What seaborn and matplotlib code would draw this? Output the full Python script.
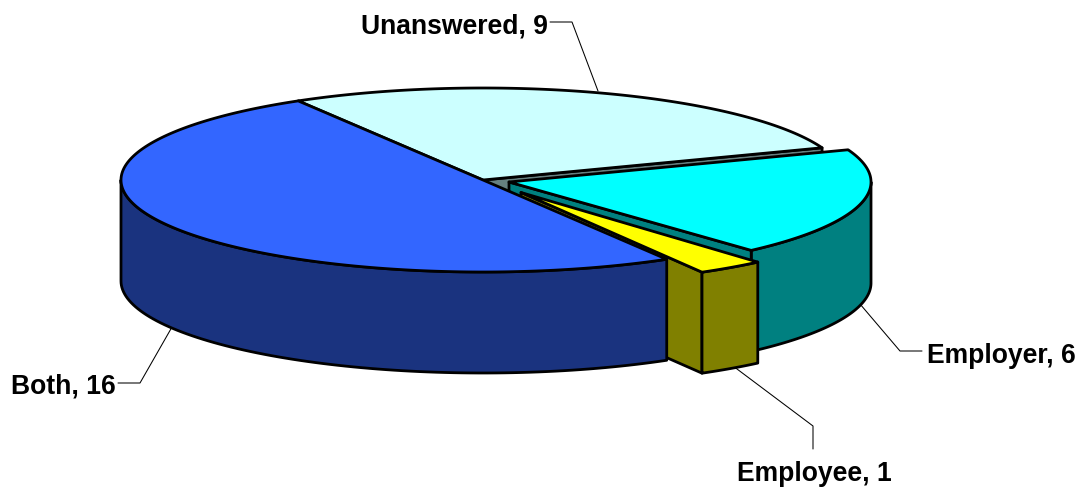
import numpy as np
import matplotlib
matplotlib.use("Agg")
import matplotlib.pyplot as plt
from matplotlib.patches import Polygon
import seaborn as sns

categories = ["Both", "Employee", "Employer", "Unanswered"]
values = [16, 1, 6, 9]

top_colors = ["#3366FF", "#FFFF00", "#00FFFF", "#CCFFFF"]
side_colors = ["#1A337F", "#808000", "#008080", "#668080"]
centers = [(483, 181), (521, 193.5), (509, 183), (483, 181)]
# small per-slice angle corrections for the projection of the 3-D pie
nudges = [(0.7, 0.5), (0.0, -0.4), (0.75, 1.75), (1.75, 0.7)]
label_pos = [(116, 386, "right"), (737, 474, "left"), (927, 356, "left"), (548, 26, "right")]
leaders = [
    ([172, 140, 118], [328, 384, 384]),
    ([733, 813, 813], [367, 427, 450]),
    ([860, 900, 922], [305, 352, 352]),
    ([598, 572, 550], [92, 23, 23]),
]

RX, RY, DEPTH = 362, 92, 101
START = 120.0
LW = 2.0

sns.set_theme(style="white")
plt.rcParams["font.family"] = ["Liberation Sans", "DejaVu Sans"]

fig = plt.figure(figsize=(10.85, 4.89), dpi=100)
ax = fig.add_axes([0, 0, 1, 1])
ax.set_xlim(0, 1085)
ax.set_ylim(489, 0)
ax.axis("off")

fractions = np.array(values, dtype=float) / sum(values)
edges = START + 360 * np.concatenate([[0], np.cumsum(fractions)])
spans_deg = [(edges[i] + nudges[i][0], edges[i + 1] + nudges[i][1]) for i in range(len(values))]


def arc(c, a, b, n=90):
    t = np.radians(np.linspace(a, b, n))
    return np.column_stack([c[0] + RX * np.cos(t), c[1] - RY * np.sin(t)])


def poly(pts, color, z):
    ax.add_patch(Polygon(pts, closed=True, facecolor=color, edgecolor="black",
                         linewidth=LW, joinstyle="round", zorder=z))


def radial_face(i, angle, z):
    c = centers[i]
    p = arc(c, angle, angle, 1)[0]
    poly([c, p, (p[0], p[1] + DEPTH), (c[0], c[1] + DEPTH)], side_colors[i], z)


def wall(i, z):
    a, b = spans_deg[i]
    # only the front half of the rim (180 to 360 degrees) faces the viewer
    spans = [(max(a, 180), min(b, 360)), (max(a, 540), min(b, 720))]
    for lo, hi in spans:
        if hi > lo:
            rim = arc(centers[i], lo, hi)
            low = rim[::-1] + [0, DEPTH]
            poly(np.vstack([rim, low]), side_colors[i], z)


def top(i, z):
    c = centers[i]
    a, b = spans_deg[i]
    poly(np.vstack([[c], arc(c, a, b, 180)]), top_colors[i], z)


BOTH, EMPLOYEE, EMPLOYER, UNANSWERED = 0, 1, 2, 3

# back to front
radial_face(UNANSWERED, spans_deg[UNANSWERED][0], 1)
top(UNANSWERED, 2)
wall(EMPLOYER, 3)
radial_face(EMPLOYER, spans_deg[EMPLOYER][0], 3)
top(EMPLOYER, 4)
radial_face(EMPLOYEE, spans_deg[EMPLOYEE][0], 5)
wall(BOTH, 6)
top(BOTH, 7)
wall(EMPLOYEE, 8)
top(EMPLOYEE, 9)

for (xs, ys) in leaders:
    ax.plot(xs, ys, color="black", lw=0.75, zorder=0.5, solid_joinstyle="miter")

for name, val, (x, y, ha) in zip(categories, values, label_pos):
    ax.text(x, y, f"{name}, {val}", ha=ha, va="center", fontsize=19.1,
            fontweight="bold", color="black")

fig.savefig("out.png", dpi=100, facecolor="white")
